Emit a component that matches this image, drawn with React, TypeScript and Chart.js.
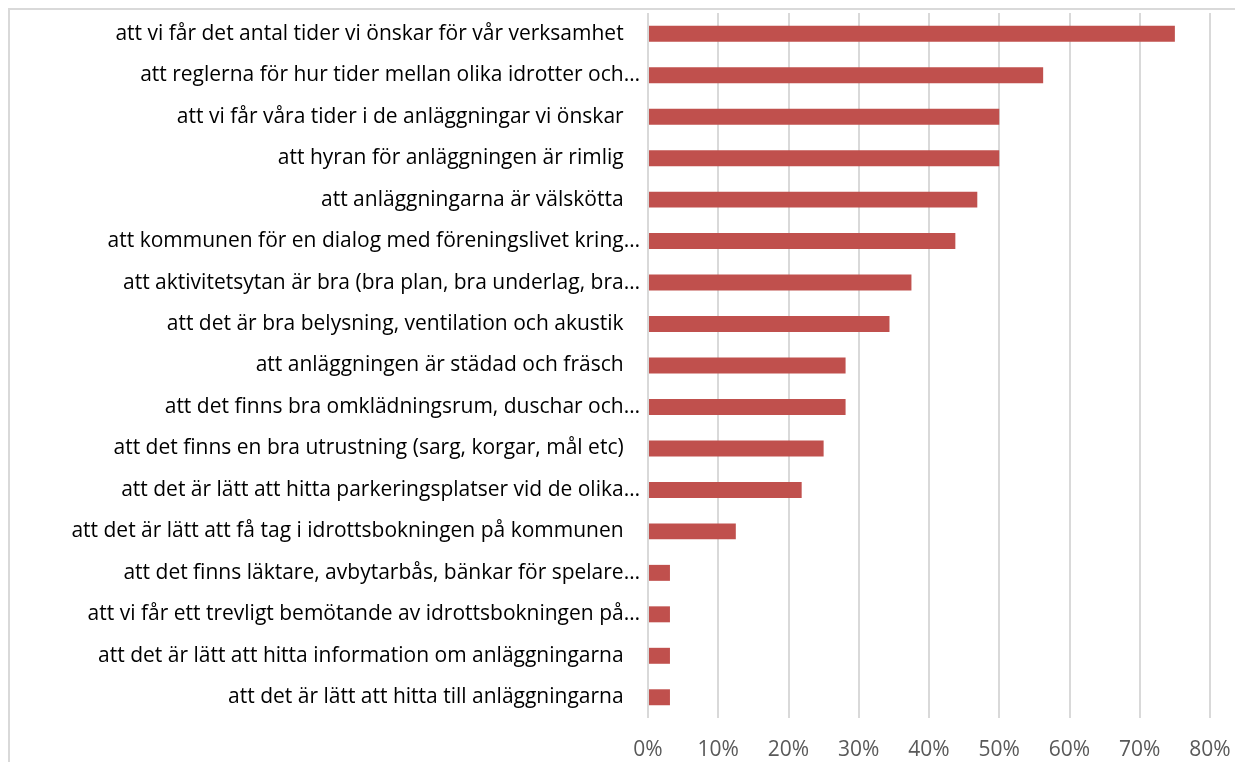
import React, { useEffect, useRef } from "react";
import { Chart, registerables } from "chart.js";

Chart.register(...registerables);

const categories: string[] = [
  "att vi får det antal tider vi önskar för vår verksamhet",
  "att reglerna för hur tider mellan olika idrotter och…",
  "att vi får våra tider i de anläggningar vi önskar",
  "att hyran för anläggningen är rimlig",
  "att anläggningarna är välskötta",
  "att kommunen för en dialog med föreningslivet kring…",
  "att aktivitetsytan är bra (bra plan, bra underlag, bra…",
  "att det är bra belysning, ventilation och akustik",
  "att anläggningen är städad och fräsch",
  "att det finns bra omklädningsrum, duschar och…",
  "att det finns en bra utrustning (sarg, korgar, mål etc)",
  "att det är lätt att hitta parkeringsplatser vid de olika…",
  "att det är lätt att få tag i idrottsbokningen på kommunen",
  "att det finns läktare, avbytarbås, bänkar för spelare…",
  "att vi får ett trevligt bemötande av idrottsbokningen på…",
  "att det är lätt att hitta information om anläggningarna",
  "att det är lätt att hitta till anläggningarna",
];

const values: number[] = [
  75, 56.25, 50, 50, 46.875, 43.75, 37.5, 34.375, 28.125, 28.125, 25, 21.875,
  12.5, 3.125, 3.125, 3.125, 3.125,
];

const tickValues: number[] = [0, 10, 20, 30, 40, 50, 60, 70, 80];

const FONT = "'Open Sans'";

export default function App() {
  const ref = useRef<HTMLCanvasElement | null>(null);

  useEffect(() => {
    if (!ref.current) return;
    const chart = new Chart(ref.current, {
      type: "bar",
      data: {
        labels: categories,
        datasets: [
          {
            data: values,
            backgroundColor: "#C0504D",
            borderWidth: 0,
            barPercentage: 0.385,
            categoryPercentage: 1,
          },
        ],
      },
      options: {
        indexAxis: "y",
        animation: false,
        responsive: false,
        maintainAspectRatio: false,
        layout: { padding: { top: 3, right: 33, left: 0, bottom: 0 } },
        plugins: {
          legend: { display: false },
          tooltip: { enabled: false },
        },
        scales: {
          x: {
            min: tickValues[0],
            max: tickValues[tickValues.length - 1],
            afterBuildTicks: (scale: any) => {
              scale.ticks = tickValues.map((v) => ({ value: v }));
            },
            afterFit: (scale: any) => {
              scale.height = 44;
              scale.paddingLeft = 0;
              scale.paddingRight = 0;
            },
            grid: {
              color: "#D9D9D9",
              lineWidth: 2,
              drawTicks: false,
            },
            border: { display: false },
            ticks: {
              padding: 19,
              color: "#595959",
              font: { family: FONT, size: 21 },
              callback: (v: any) => v + "%",
            },
          },
          y: {
            afterFit: (scale: any) => {
              scale.width = 638;
              scale.paddingTop = 0;
              scale.paddingBottom = 0;
            },
            grid: { display: false, drawTicks: false },
            border: { display: false },
            ticks: {
              padding: 8,
              color: "#000000",
              autoSkip: false,
              font: { family: FONT, size: 21 },
              callback: function (this: any, v: any) {
                const l = categories[v as number];
                return l.endsWith("…") ? l : l + "\u00a0\u00a0\u00a0";
              },
            },
          },
        },
      },
    });
    return () => chart.destroy();
  }, []);

  return (
    <div
      style={{
        width: 1235,
        height: 754,
        borderTop: "2px solid #D9D9D9",
        borderLeft: "2px solid #D9D9D9",
        boxSizing: "border-box",
        position: "relative",
        overflow: "hidden",
      }}
    >
      <canvas
        ref={ref}
        width={1233}
        height={752}
        style={{ position: "absolute", left: 0, top: 0 }}
      />
    </div>
  );
}
